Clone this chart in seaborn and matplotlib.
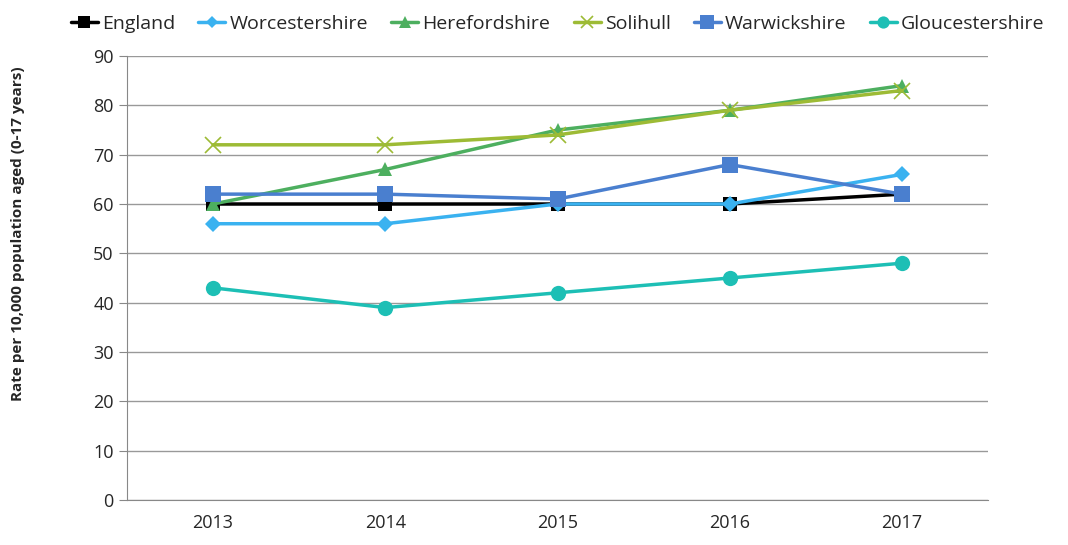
import pandas as pd
import matplotlib.pyplot as plt
import seaborn as sns

years = [2013, 2014, 2015, 2016, 2017]
areas = ["England", "Worcestershire", "Herefordshire", "Solihull", "Warwickshire", "Gloucestershire"]
england = [60, 60, 60, 60, 62]
worcestershire = [56, 56, 60, 60, 66]
herefordshire = [60, 67, 75, 79, 84]
solihull = [72, 72, 74, 79, 83]
warwickshire = [62, 62, 61, 68, 62]
gloucestershire = [43, 39, 42, 45, 48]

colors = ["#000000", "#3AB2F0", "#4DAF5F", "#9DBB35", "#4A7FCF", "#1DBFB5"]
markers = ["s", "D", "^", "x", "s", "o"]
sizes = [10, 8, 10, 11, 12, 11]

series = [england, worcestershire, herefordshire, solihull, warwickshire, gloucestershire]
df = pd.DataFrame([
    {"area": a, "year": y, "rate": v}
    for a, vals in zip(areas, series) for y, v in zip(years, vals)
])

sns.set_style("white")
plt.rcParams["font.family"] = ["Open Sans", "DejaVu Sans"]

fig = plt.figure(figsize=(10.68, 5.45), dpi=100)
ax = fig.add_axes([127 / 1068, 45 / 545, 861 / 1068, 444 / 545])

for a, c, m, s in zip(areas, colors, markers, sizes):
    sub = df[df["area"] == a]
    sns.lineplot(data=sub, x="year", y="rate", ax=ax, color=c, marker=m,
                 markersize=s, linewidth=2.5, label=a,
                 markeredgecolor=c, markeredgewidth=1.2 if m == "x" else 0)

ax.set_xlim(2012.5, 2017.5)
ax.set_ylim(0, 90)
ax.set_yticks(range(0, 91, 10))
ax.set_xticks(years)
ax.set_xticks([2012.5 + i for i in range(6)], minor=True)
ax.tick_params(axis="x", which="major", length=0, labelsize=13, pad=10)
ax.tick_params(axis="x", which="minor", length=7, color="#888888", direction="out")
ax.tick_params(axis="y", length=6, color="#888888", labelsize=13, direction="out", left=True)
ax.grid(axis="y", color="#999999", linewidth=1)
ax.set_axisbelow(True)
for side in ["top", "right"]:
    ax.spines[side].set_visible(False)
for side in ["left", "bottom"]:
    ax.spines[side].set_color("#888888")
ax.set_xlabel("")
ax.set_ylabel("Rate per 10,000 population aged (0-17 years)", fontsize=11, fontweight="bold")
ax.yaxis.set_label_coords(-0.118, 0.6)

ax.legend(loc="upper center", bbox_to_anchor=(0.5, 1.11), ncol=6, frameon=False,
          fontsize=14, handlelength=1.4, handletextpad=0.2, columnspacing=1.2,
          borderaxespad=0, markerscale=0.8)

fig.savefig("out.png", dpi=100)
